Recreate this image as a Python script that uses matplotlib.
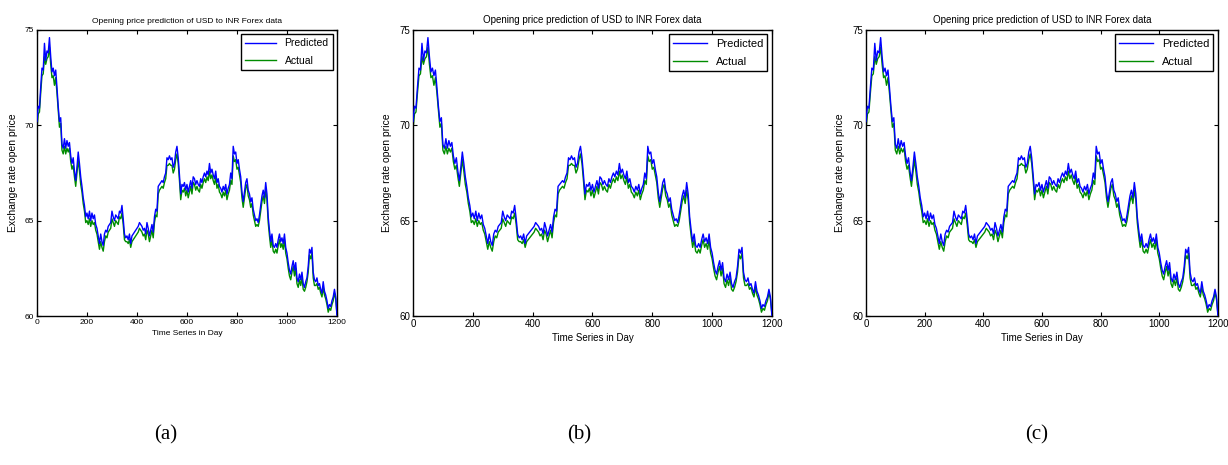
import matplotlib
matplotlib.use("Agg")
from matplotlib import pyplot as plt

days = list(range(0, 1201, 5))

predicted = [
    70.2, 71.0, 70.9, 72.0, 73.0, 72.9, 74.3, 73.4, 73.9, 73.8,
    74.6, 73.6, 72.8, 73.0, 72.6, 72.9, 72.0, 71.0, 70.2, 70.4,
    69.0, 68.8, 69.3, 68.8, 69.2, 68.9, 69.1, 68.4, 68.0, 68.3,
    67.6, 67.1, 67.8, 68.6, 68.0, 67.3, 66.8, 66.2, 65.8, 65.2,
    65.4, 65.1, 65.5, 65.0, 65.4, 65.1, 65.3, 64.8, 64.6, 64.2,
    63.8, 64.3, 63.9, 63.7, 64.3, 64.5, 64.4, 64.7, 64.8, 64.9,
    65.5, 65.2, 65.0, 65.3, 65.2, 65.1, 65.5, 65.4, 65.8, 65.1,
    64.3, 64.1, 64.2, 64.0, 64.3, 63.8, 64.2, 64.3, 64.4, 64.5,
    64.6, 64.7, 64.9, 64.8, 64.7, 64.5, 64.6, 64.3, 64.9, 64.6,
    64.2, 64.5, 64.8, 64.4, 65.2, 65.6, 65.5, 66.8, 66.9, 67.0,
    67.1, 67.0, 67.3, 67.5, 68.3, 68.2, 68.4, 68.2, 68.3, 67.8,
    68.0, 68.6, 68.9, 68.3, 67.4, 66.4, 66.9, 66.8, 67.0, 66.6,
    66.9, 66.5, 66.8, 67.1, 66.7, 67.3, 67.2, 66.9, 67.1, 66.9,
    66.8, 67.2, 67.0, 67.3, 67.5, 67.3, 67.6, 67.4, 68.0, 67.5,
    67.7, 67.4, 67.2, 67.6, 67.0, 67.2, 66.8, 66.7, 66.5, 66.8,
    66.6, 66.9, 66.4, 66.7, 66.9, 67.5, 67.2, 68.9, 68.5, 68.6,
    68.0, 68.2, 67.7, 67.3, 66.5, 66.0, 66.5, 67.0, 67.2, 66.6,
    66.4, 66.0, 66.2, 65.6, 65.3, 65.0, 65.1, 64.9, 65.3, 65.8,
    66.3, 66.6, 66.2, 67.0, 66.4, 65.2, 64.5, 63.9, 64.3, 63.7,
    63.6, 63.8, 63.6, 64.0, 64.3, 63.9, 64.1, 63.8, 64.3, 63.6,
    63.3, 62.8, 62.4, 62.2, 62.6, 62.9, 62.4, 62.8, 62.0, 61.8,
    62.2, 61.9, 62.3, 61.7, 61.5, 61.8, 62.0, 62.6, 63.5, 63.3,
    63.6, 62.3, 61.9, 61.8, 62.0, 61.6, 61.7, 61.4, 61.2, 61.8,
    61.3, 61.1, 60.8, 60.4, 60.6, 60.5, 60.8, 61.0, 61.4, 61.0,
    60.0,
]

actual = [
    69.8, 70.6, 70.7, 71.7, 72.6, 72.7, 73.6, 73.2, 73.5, 73.6,
    74.1, 73.2, 72.5, 72.6, 72.1, 72.5, 71.7, 70.8, 69.9, 70.1,
    68.7, 68.5, 68.9, 68.5, 68.8, 68.6, 68.8, 68.1, 67.7, 67.9,
    67.3, 66.8, 67.5, 68.2, 67.6, 66.9, 66.5, 65.9, 65.5, 64.9,
    65.0, 64.8, 65.1, 64.7, 65.0, 64.8, 64.9, 64.5, 64.3, 63.9,
    63.5, 63.9, 63.6, 63.4, 63.9, 64.2, 64.1, 64.4, 64.5, 64.6,
    65.1, 64.9, 64.7, 65.0, 64.9, 64.8, 65.2, 65.1, 65.4, 64.8,
    64.0, 63.9, 63.9, 63.8, 64.0, 63.6, 63.9, 64.0, 64.1, 64.2,
    64.3, 64.4, 64.6, 64.5, 64.4, 64.2, 64.3, 64.0, 64.5, 64.3,
    63.9, 64.2, 64.5, 64.1, 64.9, 65.3, 65.2, 66.4, 66.6, 66.7,
    66.8, 66.7, 67.0, 67.2, 67.9, 67.9, 68.0, 67.9, 67.9, 67.5,
    67.7, 68.2, 68.5, 68.0, 67.1, 66.1, 66.6, 66.5, 66.7, 66.3,
    66.6, 66.2, 66.5, 66.8, 66.4, 67.0, 66.9, 66.6, 66.8, 66.6,
    66.5, 66.9, 66.7, 67.0, 67.2, 67.0, 67.3, 67.1, 67.6, 67.2,
    67.4, 67.1, 66.9, 67.3, 66.7, 66.9, 66.5, 66.4, 66.2, 66.5,
    66.3, 66.6, 66.1, 66.4, 66.6, 67.1, 66.9, 68.4, 68.1, 68.2,
    67.7, 67.8, 67.4, 67.0, 66.2, 65.7, 66.2, 66.7, 66.9, 66.3,
    66.1, 65.7, 65.9, 65.3, 65.0, 64.7, 64.8, 64.7, 65.0, 65.5,
    66.0, 66.3, 65.9, 66.6, 66.1, 64.9, 64.2, 63.6, 64.0, 63.4,
    63.3, 63.5, 63.3, 63.7, 64.0, 63.6, 63.8, 63.5, 64.0, 63.3,
    63.0, 62.5, 62.1, 61.9, 62.3, 62.6, 62.1, 62.5, 61.7, 61.5,
    61.9, 61.6, 62.0, 61.4, 61.3, 61.5, 61.8, 62.3, 63.2, 63.0,
    63.3, 62.0, 61.6, 61.6, 61.7, 61.4, 61.5, 61.2, 61.0, 61.5,
    61.1, 60.9, 60.6, 60.2, 60.4, 60.3, 60.6, 60.8, 61.2, 60.9,
    60.1,
]

x_ticks = [0, 200, 400, 600, 800, 1000, 1200]
y_ticks = [60, 65, 70, 75]
panel_labels = ["(a)", "(b)", "(c)"]

# axes boxes in figure fractions [left, bottom, width, height]
boxes = [
    [0.0301, 0.3204, 0.2443, 0.6151],
    [0.3363, 0.3204, 0.2923, 0.6151],
    [0.7052, 0.3204, 0.2866, 0.6151],
]
label_x = [0.135, 0.472, 0.844]

plt.rcParams["font.family"] = ["Liberation Sans", "DejaVu Sans"]

fig = plt.figure(figsize=(12.28, 4.65), dpi=100)

for i, box in enumerate(boxes):
    ax = fig.add_axes(box)
    l_act, = ax.plot(days, actual, color="#008c00", lw=1.0, zorder=2)
    l_pred, = ax.plot(days, predicted, color="#0000ff", lw=1.0, zorder=3)
    ax.set_xlim(0, 1200)
    ax.set_ylim(60, 75)
    ax.set_xticks(x_ticks)
    ax.set_yticks(y_ticks)
    fs = 6 if i == 0 else 7
    ax.tick_params(direction="in", length=3, width=0.8, labelsize=fs,
                   top=True, right=True, pad=2)
    for sp in ax.spines.values():
        sp.set_linewidth(1.0)
        sp.set_color("black")
    ax.set_title("Opening price prediction of USD to INR Forex data",
                 fontsize=fs, pad=5)
    ax.set_xlabel("Time Series in Day", fontsize=fs, labelpad=3)
    ax.set_ylabel("Exchange rate open price", fontsize=7.5, labelpad=5)
    leg = ax.legend([l_pred, l_act], ["Predicted", "Actual"], loc="upper right",
                    fontsize=7.5 if i == 0 else 8, fancybox=False, framealpha=1,
                    edgecolor="black", borderaxespad=0.4, handlelength=3,
                    labelspacing=0.7)
    leg.get_frame().set_linewidth(1.0)
    fig.text(label_x[i], 0.055, panel_labels[i], fontsize=15,
             family=["Liberation Serif", "DejaVu Serif"], ha="center")

fig.savefig("out.png", dpi=100)
